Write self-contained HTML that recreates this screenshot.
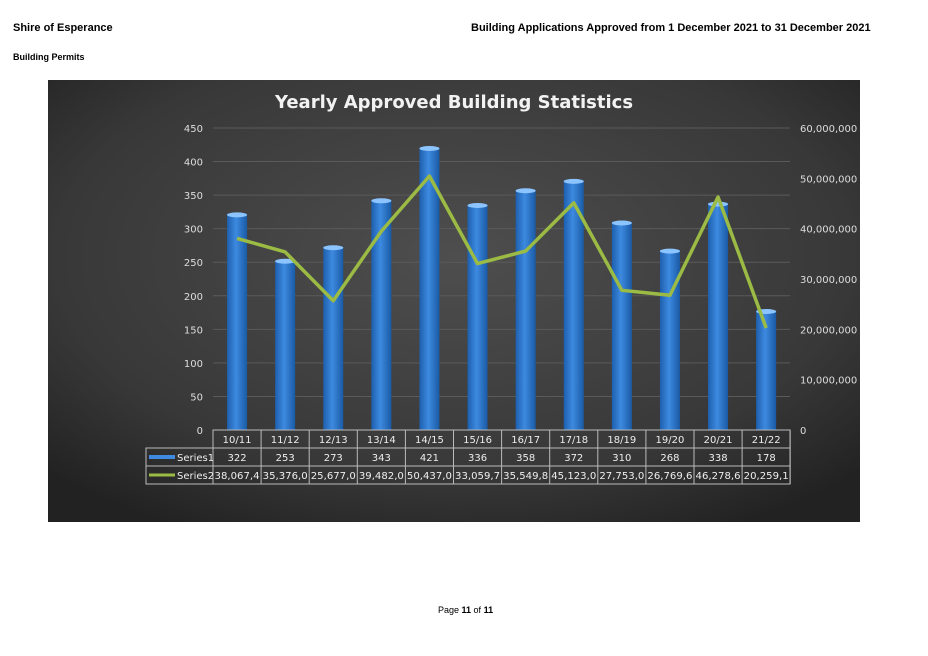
<!DOCTYPE html>
<html><head><meta charset="utf-8">
<style>
body{margin:0;width:928px;height:656px;background:#fff;position:relative;font-family:"Liberation Sans",Verdana,sans-serif;overflow:hidden}
.h{position:absolute;font-weight:bold;font-size:11px;color:#000}
</style></head>
<body>
<div class="h" style="left:13px;top:22px">Shire of Esperance</div>
<div class="h" style="left:471px;top:22px">Building Applications Approved from 1 December 2021 to 31 December 2021</div>
<div class="h" style="left:13px;top:52px;font-size:9px">Building Permits</div>
<div style="position:absolute;left:438px;top:605px;font-size:9px">Page <b>11</b> of <b>11</b></div>
<svg id="chart" width="928" height="656" style="position:absolute;left:0;top:0">
<defs>
<radialGradient id="bg" cx="0.5" cy="0.4" r="0.7">
<stop offset="0" stop-color="#4e4e4e"/><stop offset="0.7" stop-color="#383838"/><stop offset="1" stop-color="#222"/></radialGradient>
<linearGradient id="bar" x1="0" x2="1" y1="0" y2="0">
<stop offset="0" stop-color="#1e5fae"/><stop offset="0.45" stop-color="#3d8ae0"/><stop offset="1" stop-color="#1a5aa5"/></linearGradient>
</defs>
<rect x="48" y="80" width="812" height="442" fill="url(#bg)"/>
<text x="454" y="108" text-anchor="middle" fill="#f2f2f2" font-size="18" font-weight="bold" font-family="DejaVu Sans, sans-serif">Yearly Approved Building Statistics</text>
<g id="g"></g>
</svg>
<script>
const categories=["10/11","11/12","12/13","13/14","14/15","15/16","16/17","17/18","18/19","19/20","20/21","21/22"];
const series1=[322,253,273,343,421,336,358,372,310,268,338,178];
const series2=[38067.4,35376.0,25677.0,39482.0,50437.0,33059.7,35549.8,45123.0,27753.0,26769.6,46278.6,20259.1];
const series2Labels=["38,067,4","35,376,0","25,677,0","39,482,0","50,437,0","33,059,7","35,549,8","45,123,0","27,753,0","26,769,6","46,278,6","20,259,1"];
const leftTicks=[0,50,100,150,200,250,300,350,400,450];
const rightTicks=[0,10000000,20000000,30000000,40000000,50000000,60000000];
const rightTickLabels=["0","10,000,000","20,000,000","30,000,000","40,000,000","50,000,000","60,000,000"];
const NS="http://www.w3.org/2000/svg",g=document.getElementById("g");
const X0=213,CW=48.1,Y0=430,H=302;
const yL=v=>Y0-v/450*H, yR=v=>Y0-v/60000000*H, xC=i=>X0+CW*(i+0.5);
function mk(t,a,txt){const e=document.createElementNS(NS,t);for(const k in a)e.setAttribute(k,a[k]);if(txt!=null)e.textContent=txt;g.appendChild(e);return e;}
leftTicks.forEach(v=>{
 const l=mk("line",{x1:X0,x2:790,y1:yL(v),y2:yL(v),stroke:"#5a5a5a","stroke-width":1});
 
 const t=mk("text",{x:203,y:yL(v)+4,"text-anchor":"end",fill:"#ddd","font-size":10,"font-family":"DejaVu Sans, sans-serif"},v);
 
});
rightTicks.forEach((v,i)=>{
 const t=mk("text",{x:800,y:yR(v)+4,fill:"#ddd","font-size":10,"font-family":"DejaVu Sans, sans-serif"},rightTickLabels[i]);
 
});
series1.forEach((v,i)=>{
 const r=mk("rect",{x:xC(i)-10,y:yL(v),width:20,height:Y0-yL(v),fill:"url(#bar)"});
 
 const c=mk("ellipse",{cx:xC(i),cy:yL(v)+1,rx:10,ry:2.5,fill:"#8cc4ff"});
 
});
const p=mk("polyline",{points:series2.map((v,i)=>xC(i)+","+yR(v*1000)).join(" "),fill:"none",stroke:"#9bbb45","stroke-width":3.5,"stroke-linejoin":"round"});

// data table
const rows=[430,448,466,484];
mk("rect",{x:146,y:448,width:644,height:36,fill:"none",stroke:"#bbb"});
mk("rect",{x:X0,y:430,width:577,height:18,fill:"none",stroke:"#bbb"});
[448,466].forEach(y=>mk("line",{x1:146,x2:790,y1:y,y2:y,stroke:"#bbb"}));
for(let i=0;i<=12;i++)mk("line",{x1:X0+CW*i,x2:X0+CW*i,y1:430,y2:484,stroke:"#bbb"});
categories.forEach((c,i)=>{
 const t=mk("text",{x:xC(i),y:443,"text-anchor":"middle",fill:"#eee","font-size":10,"font-family":"DejaVu Sans, sans-serif"},c);
 
 const a=mk("text",{x:xC(i),y:461,"text-anchor":"middle",fill:"#eee","font-size":10,"font-family":"DejaVu Sans, sans-serif"},series1[i]);
 
 const b=mk("text",{x:xC(i),y:479,"text-anchor":"middle",fill:"#eee","font-size":9.5,"font-family":"DejaVu Sans, sans-serif","textLength":45,"lengthAdjust":"spacingAndGlyphs"},series2Labels[i]);
 
});
mk("rect",{x:149,y:455,width:26,height:4,fill:"#3d8ae0"});
mk("line",{x1:149,x2:175,y1:475,y2:475,stroke:"#9bbb45","stroke-width":3});
const s1=mk("text",{x:177,y:461,fill:"#eee","font-size":10,"font-family":"DejaVu Sans, sans-serif"},"Series1");

const s2=mk("text",{x:177,y:479,fill:"#eee","font-size":10,"font-family":"DejaVu Sans, sans-serif"},"Series2");

</script>
</body></html>
